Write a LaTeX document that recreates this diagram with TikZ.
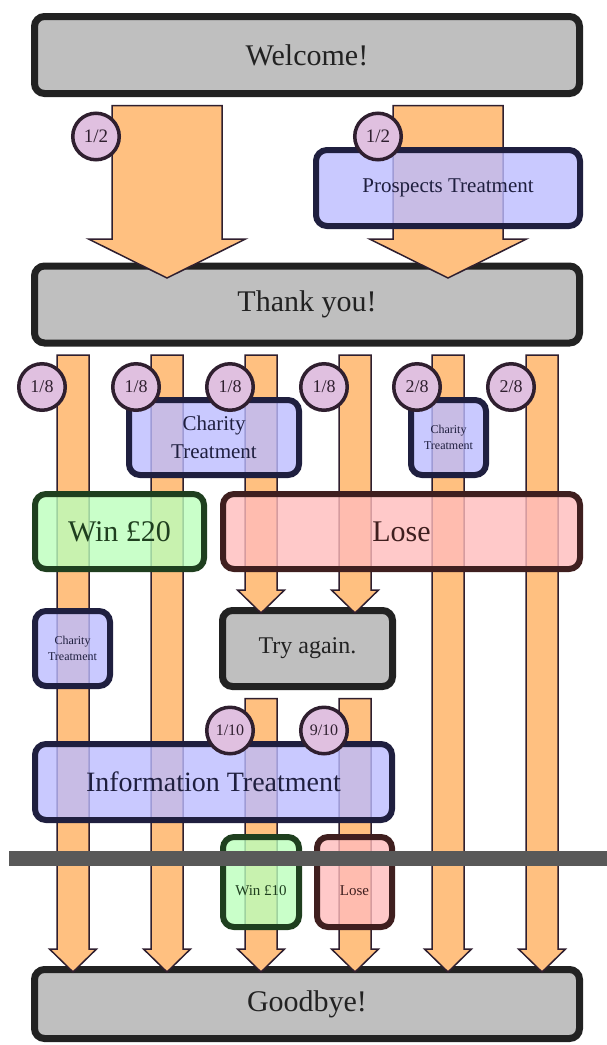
\documentclass[tikz,border=0pt]{standalone}
\usepackage{fontspec}
\setmainfont{Liberation Serif}
\usetikzlibrary{calc}

\definecolor{boxgrey}{HTML}{BFBFBF}
\definecolor{boxline}{HTML}{222222}
\definecolor{treatfill}{HTML}{BBBBFF}
\definecolor{treatline}{HTML}{1F1F3F}
\definecolor{winfill}{HTML}{BBFFBB}
\definecolor{winline}{HTML}{1F3F1F}
\definecolor{losefill}{HTML}{FFBBBB}
\definecolor{loseline}{HTML}{3F1F1F}
\definecolor{flowfill}{HTML}{FFC080}
\definecolor{flowline}{HTML}{2F1F2F}
\definecolor{probfill}{HTML}{E0C0E0}
\definecolor{cutline}{HTML}{595959}

% lane, from node, to node, shaft half width, head half width, head length, tip depth
\newcommand{\blockarrow}[7]{%
  \draw[flow arrow]
    ($(#1 |- #2.south)+(-#4,8.5)$) -- ($(#1 |- #2.south)+(#4,8.5)$)
    -- ($(#1 |- #3.north)+(#4,#7-#6)$) -- ($(#1 |- #3.north)+(#5,#7-#6)$)
    -- ($(#1 |- #3.north)+(0,#7)$)
    -- ($(#1 |- #3.north)+(-#5,#7-#6)$) -- ($(#1 |- #3.north)+(-#4,#7-#6)$) -- cycle;
}

\tikzset{
  stage/.style={draw=boxline, fill=boxgrey, line width=7pt, rounded corners=10pt, text=boxline, inner sep=0pt},
  treatment/.style={draw=treatline, fill=treatfill, fill opacity=.8, text opacity=1, line width=6pt, rounded corners=11pt, text=treatline, align=center, inner sep=0pt},
  win/.style={treatment, draw=winline, fill=winfill, text=winline},
  lose/.style={treatment, draw=loseline, fill=losefill, text=loseline},
  flow arrow/.style={draw=flowline, fill=flowfill, line width=1.5pt, line join=miter},
  prob/.style={circle, draw=flowline, fill=probfill, line width=3.5pt, minimum size=46.5pt, inner sep=0pt, text=flowline},
  bigtext/.style={font=\fontsize{30}{36}\selectfont},
}

\begin{document}
\begin{tikzpicture}[x=1pt, y=-1pt]
  \useasboundingbox (0,0) rectangle (607,1045);

  % stages
  \node[stage, bigtext, minimum width=545pt, minimum height=77pt] (welcome) at (307,55) {Welcome!};
  \node[stage, bigtext, minimum width=545pt, minimum height=77pt] (thanks) at (307,304.5) {Thank you!};
  \node[stage, font=\fontsize{24}{29}\selectfont, minimum width=170pt, minimum height=76pt] (again) at (307.5,648.5) {Try again.};
  \node[stage, bigtext, minimum width=545pt, minimum height=69pt] (bye) at (307,1004) {Goodbye!};

  % lanes
  \foreach \i/\x in {1/73,2/167,3/261,4/355,5/448,6/542}
    \coordinate (lane\i) at (\x,0);
  \coordinate (halfL) at (167,0);
  \coordinate (halfR) at (448,0);

  % flows
  \blockarrow{halfL}{welcome}{thanks}{55}{78.5}{39}{15.5}
  \blockarrow{halfR}{welcome}{thanks}{55}{78.5}{39}{15.5}
  \foreach \i in {1,2,5,6} {
    \blockarrow{lane\i}{thanks}{bye}{16}{23.5}{23}{6}
  }
  \foreach \i in {3,4} {
    \blockarrow{lane\i}{thanks}{again}{16}{23.5}{23}{6}
    \blockarrow{lane\i}{again}{bye}{16}{23.5}{23}{6}
  }

  % treatments and outcomes
  \node[treatment, font=\fontsize{21}{26}\selectfont, minimum width=264pt, minimum height=76pt] (prospects) at (448,188) {Prospects Treatment};
  \node[treatment, font=\fontsize{21}{28}\selectfont, minimum width=170pt, minimum height=75pt] (charityA) at (214,437.5) {Charity\\Treatment};
  \node[treatment, font=\fontsize{12}{16}\selectfont, minimum width=75pt, minimum height=75pt] (charityB) at (448.5,437.5) {Charity\\Treatment};
  \node[win, bigtext, minimum width=169pt, minimum height=75pt] (winA) at (119.5,531.5) {Win £20};
  \node[lose, bigtext, minimum width=357pt, minimum height=75pt] (loseA) at (401.5,531.5) {Lose};
  \node[treatment, font=\fontsize{12}{16}\selectfont, minimum width=75pt, minimum height=75pt] (charityC) at (72.5,648.5) {Charity\\Treatment};
  \node[treatment, font=\fontsize{28}{34}\selectfont, minimum width=357pt, minimum height=76pt] (info) at (213.5,782) {Information Treatment};
  \node[win, font=\fontsize{15}{18}\selectfont, text height=26pt, text depth=0pt, minimum width=76pt, minimum height=90pt] (winB) at (261,882) {Win £10};
  \node[lose, font=\fontsize{15}{18}\selectfont, text height=26pt, text depth=0pt, minimum width=75pt, minimum height=90pt] (loseB) at (354.5,882) {Lose};

  % cut
  \fill[cutline] (9,851) rectangle (607,866);

  % probabilities
  \node[prob, font=\fontsize{19}{22}\selectfont] (pL) at ($(halfL |- welcome.south)+(-71,39.5)$) {1/2};
  \node[prob, font=\fontsize{19}{22}\selectfont] (pR) at ($(halfR |- welcome.south)+(-70,39.5)$) {1/2};
  \foreach \i/\n in {1/1,2/1,3/1,4/1,5/2,6/2}
    \node[prob, font=\fontsize{18}{22}\selectfont] (p\i) at ($(lane\i |- thanks.south)+(-31,40.5)$) {\n/8};
  \node[prob, font=\fontsize{16}{20}\selectfont] (pWin) at ($(lane3 |- again.south)+(-31,40.5)$) {1/10};
  \node[prob, font=\fontsize{16}{20}\selectfont] (pLose) at ($(lane4 |- again.south)+(-31,40.5)$) {9/10};
\end{tikzpicture}
\end{document}
